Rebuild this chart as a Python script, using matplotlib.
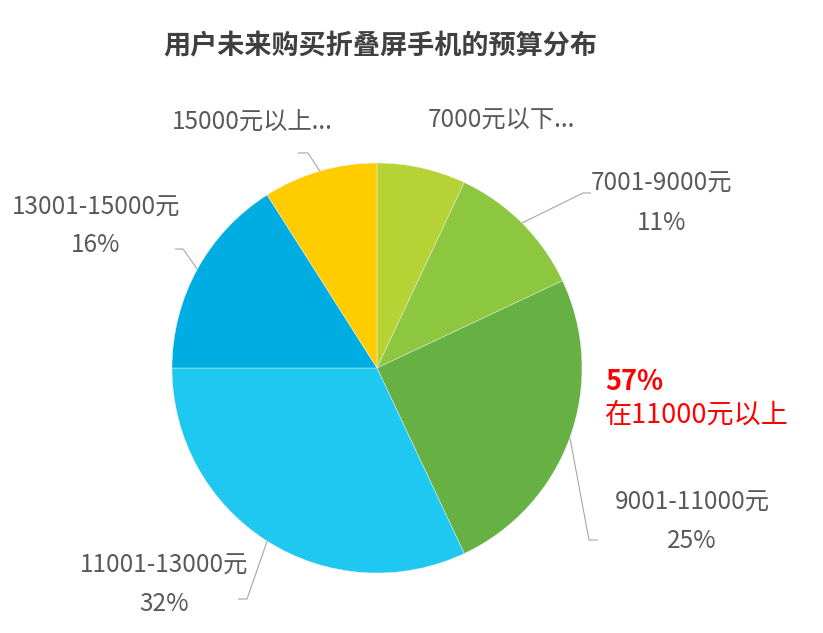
import numpy as np
import matplotlib
matplotlib.use("Agg")
import matplotlib.pyplot as plt

plt.rcParams['font.family'] = ['Noto Sans CJK SC', 'DejaVu Sans']

title = "用户未来购买折叠屏手机的预算分布"
categories = ["7000元以下", "7001-9000元", "9001-11000元", "11001-13000元", "13001-15000元", "15000元以上"]
values = [7, 11, 25, 32, 16, 9]
label_texts = ["7000元以下...", "7001-9000元\n11%", "9001-11000元\n25%", "11001-13000元\n32%",
               "13001-15000元\n16%", "15000元以上..."]
colors = ["#B5D334", "#8DC63F", "#66B044", "#1EC8F0", "#00ADE3", "#FFCC00"]
callout_pct = "57%"
callout_text = "在11000元以上"

W, H = 823, 633
fig = plt.figure(figsize=(W / 100, H / 100), dpi=100)
ax = fig.add_axes([0, 0, 1, 1])

def py(y):
    return H - y

cx, cy, R = 377, 368, 205
ax.pie(values, colors=colors, startangle=90, counterclock=False,
       center=(cx, py(cy)), radius=R,
       wedgeprops=dict(edgecolor='#F2F2F2', linewidth=0.3))
ax.set_xlim(0, W)
ax.set_ylim(0, H)
ax.set_aspect('equal')
ax.axis('off')

# label positions (pixel centers): (x, y_line1, y_line2)
label_pos = [
    (501, 120, None),
    (662, 184, 223),
    (692, 503, 541),
    (164, 566, 604),
    (96, 208, 245),
    (252, 122, None),
]
# leader elbows and ends (pixels), None = no leader
leaders = [
    None,
    ((583, 193), (591, 193)),
    ((589, 540), (598, 540)),
    ((247, 599), (238, 599)),
    ((183, 249), (175, 249)),
    ((308, 153), (298, 153)),
]

total = sum(values)
cum = np.cumsum([0] + values)
txtcolor = "#595959"
fs = 17.5
for i, cat in enumerate(categories):
    mid = (cum[i] + cum[i + 1]) / 2 / total * 360.0
    th = np.deg2rad(mid)
    sx = cx + R * np.sin(th)
    sy = cy - R * np.cos(th)
    if leaders[i] is not None:
        (ex, ey), (tx, ty) = leaders[i]
        ax.plot([sx, ex, tx], [py(sy), py(ey), py(ty)], color="#A6A6A6", lw=0.8,
                solid_capstyle='butt')
    x, y1, y2 = label_pos[i]
    lines = label_texts[i].split("\n")
    ax.text(x, py(y1), lines[0], ha='center', va='center', fontsize=fs, color=txtcolor)
    if y2 is not None and len(lines) > 1:
        ax.text(x, py(y2), lines[1], ha='center', va='center', fontsize=fs, color=txtcolor)

ax.text(605, py(382), callout_pct, ha='left', va='center', fontsize=19.5,
        fontweight='bold', color="#FF0000")
ax.text(605, py(415), callout_text, ha='left', va='center', fontsize=19.5, color="#FF0000")

ax.text(380, py(45), title, ha='center', va='center', fontsize=19.5,
        fontweight='bold', color="#404040")

fig.savefig("out.png", dpi=100)
